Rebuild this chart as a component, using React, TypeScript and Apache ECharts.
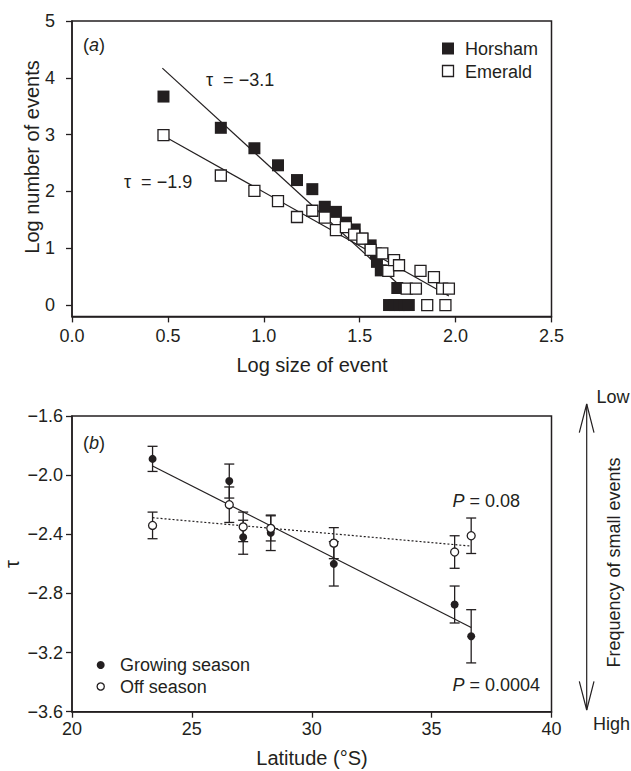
import React, { useEffect, useRef } from "react";
import * as echarts from "echarts";

const FONT = '"Liberation Sans", Arial, Helvetica, sans-serif';
const INK = "#231f20";

// Panel (a): log size of event vs log number of events
const horsham: [number, number][] = [
  [0.477, 3.67], [0.776, 3.12], [0.951, 2.76], [1.074, 2.46], [1.173, 2.2],
  [1.253, 2.04], [1.318, 1.73], [1.376, 1.64], [1.428, 1.45], [1.474, 1.33],
  [1.514, 1.17], [1.557, 1.05], [1.584, 0.91], [1.59, 0.76], [1.61, 0.61],
  [1.696, 0.3], [1.653, 0], [1.681, 0], [1.708, 0], [1.732, 0], [1.756, 0],
];
const emerald: [number, number][] = [
  [0.477, 2.99], [0.776, 2.28], [0.951, 2.01], [1.074, 1.83], [1.173, 1.55],
  [1.253, 1.66], [1.318, 1.54], [1.376, 1.32], [1.428, 1.37], [1.471, 1.24],
  [1.514, 1.17], [1.557, 0.97], [1.618, 0.91], [1.649, 0.6], [1.679, 0.79],
  [1.705, 0.7], [1.745, 0.29], [1.793, 0.29], [1.817, 0.6], [1.887, 0.49],
  [1.93, 0.29], [1.965, 0.29], [1.852, 0], [1.947, 0],
];
const horshamFit: [number, number][] = [[0.471, 4.17], [1.7, 0.37]];
const emeraldFit: [number, number][] = [[0.492, 2.95], [1.965, 0.16]];
const panelAYTicks = [0, 1, 2, 3, 4, 5];

// Panel (b): latitude vs tau, [latitude, tau, error]
const growing: [number, number, number][] = [
  [23.36, -1.89, 0.085], [26.56, -2.04, 0.115], [27.14, -2.42, 0.115],
  [28.29, -2.39, 0.12], [30.92, -2.6, 0.15], [35.96, -2.875, 0.125],
  [36.65, -3.09, 0.18],
];
const offSeason: [number, number, number][] = [
  [23.36, -2.34, 0.09], [26.56, -2.2, 0.12], [27.14, -2.35, 0.1],
  [28.29, -2.36, 0.085], [30.92, -2.46, 0.105], [35.96, -2.52, 0.11],
  [36.65, -2.41, 0.12],
];
const growingFit: [number, number][] = [[23.36, -1.938], [36.65, -3.03]];
const offFit: [number, number][] = [[23.36, -2.288], [36.65, -2.48]];

const axisCommon = {
  axisLine: { show: true, onZero: false, lineStyle: { color: INK, width: 1.5 } },
  axisTick: { show: true, inside: false, length: 6, lineStyle: { color: INK, width: 1.3 } },
  splitLine: { show: false },
};

function errorBars(data: [number, number, number][]) {
  return {
    type: "custom",
    xAxisIndex: 1,
    yAxisIndex: 1,
    silent: true,
    z: 3,
    data,
    renderItem: (params: any, api: any) => {
      const x = api.value(0);
      const y = api.value(1);
      const e = api.value(2);
      const top = api.coord([x, y + e]);
      const bot = api.coord([x, y - e]);
      const hw = 5;
      const st = { stroke: INK, lineWidth: 1.3 };
      return {
        type: "group",
        children: [
          { type: "line", shape: { x1: top[0], y1: top[1], x2: bot[0], y2: bot[1] }, style: st },
          { type: "line", shape: { x1: top[0] - hw, y1: top[1], x2: top[0] + hw, y2: top[1] }, style: st },
          { type: "line", shape: { x1: bot[0] - hw, y1: bot[1], x2: bot[0] + hw, y2: bot[1] }, style: st },
        ],
      };
    },
  };
}

function txt(text: string, x: number, y: number, extra: any = {}, rotation = 0) {
  return {
    type: "text",
    x,
    y,
    rotation,
    silent: true,
    style: {
      text,
      fill: INK,
      fontSize: 18,
      fontFamily: FONT,
      align: "left",
      verticalAlign: "middle",
      ...extra,
    },
  };
}

export default function App() {
  const ref = useRef<HTMLDivElement>(null);

  useEffect(() => {
    if (!ref.current) return;
    const chart = echarts.init(ref.current, null, { renderer: "svg" });
    const italicRich = {
      i: { fontStyle: "italic", fontSize: 18, fontFamily: FONT, fill: INK },
    };
    const option: any = {
      animation: false,
      backgroundColor: "#ffffff",
      textStyle: { fontFamily: FONT },
      grid: [
        { left: 72, top: 21, width: 479.5, height: 295.4, show: true, borderColor: INK, borderWidth: 1.5, backgroundColor: "transparent", containLabel: false, outerBoundsMode: "none" },
        { left: 72, top: 416, width: 479.5, height: 295.7, show: true, borderColor: INK, borderWidth: 1.5, backgroundColor: "transparent", containLabel: false, outerBoundsMode: "none" },
      ],
      xAxis: [
        {
          type: "value", gridIndex: 0, min: 0, max: 2.5, interval: 0.5, ...axisCommon,
          axisLabel: { color: INK, fontSize: 18, fontFamily: FONT, margin: 11, formatter: (v: number) => v.toFixed(1) },
        },
        {
          type: "value", gridIndex: 1, min: 20, max: 40, interval: 5, ...axisCommon,
          axisLabel: { color: INK, fontSize: 18, fontFamily: FONT, margin: 8, formatter: (v: number) => String(Math.round(v)) },
        },
      ],
      yAxis: [
        {
          type: "value", gridIndex: 0, min: -0.2, max: 5, ...axisCommon,
          axisTick: { ...axisCommon.axisTick, customValues: panelAYTicks },
          axisLabel: { color: INK, fontSize: 18, fontFamily: FONT, margin: 17, customValues: panelAYTicks, formatter: (v: number) => String(Math.round(v)) },
        },
        {
          type: "value", gridIndex: 1, min: -3.6, max: -1.6, interval: 0.4, ...axisCommon,
          axisLabel: {
            color: INK, fontSize: 18, fontFamily: FONT, margin: 9,
            formatter: (v: number) => (v < 0 ? "\u2212" : "") + Math.abs(v).toFixed(1),
          },
        },
      ],
      series: [
        { type: "line", xAxisIndex: 0, yAxisIndex: 0, data: horshamFit, showSymbol: false, symbol: "none", silent: true, z: 2, lineStyle: { color: INK, width: 1.2 } },
        { type: "line", xAxisIndex: 0, yAxisIndex: 0, data: emeraldFit, showSymbol: false, symbol: "none", silent: true, z: 2, lineStyle: { color: INK, width: 1.2 } },
        { type: "scatter", name: "Horsham", xAxisIndex: 0, yAxisIndex: 0, data: horsham, symbol: "rect", symbolSize: 12, silent: true, z: 3, itemStyle: { color: INK, opacity: 1 } },
        { type: "scatter", name: "Emerald", xAxisIndex: 0, yAxisIndex: 0, data: emerald, symbol: "rect", symbolSize: 11, silent: true, z: 4, itemStyle: { color: "#ffffff", borderColor: INK, borderWidth: 1.3, opacity: 1 } },
        { type: "line", xAxisIndex: 1, yAxisIndex: 1, data: growingFit, showSymbol: false, symbol: "none", silent: true, z: 2, lineStyle: { color: INK, width: 1.2 } },
        { type: "line", xAxisIndex: 1, yAxisIndex: 1, data: offFit, showSymbol: false, symbol: "none", silent: true, z: 2, lineStyle: { color: INK, width: 1.2, type: [2, 2] } },
        errorBars(growing),
        errorBars(offSeason),
        { type: "scatter", name: "Growing season", xAxisIndex: 1, yAxisIndex: 1, data: growing.map((d) => [d[0], d[1]]), symbol: "circle", symbolSize: 8, silent: true, z: 4, itemStyle: { color: INK, opacity: 1 } },
        { type: "scatter", name: "Off season", xAxisIndex: 1, yAxisIndex: 1, data: offSeason.map((d) => [d[0], d[1]]), symbol: "circle", symbolSize: 8, silent: true, z: 4, itemStyle: { color: "#ffffff", borderColor: INK, borderWidth: 1.3, opacity: 1 } },
      ],
      graphic: [
        // axis titles
        txt("Log number of events", 32, 157, { align: "center", fontSize: 20 }, Math.PI / 2),
        txt("Log size of event", 312, 365, { align: "center", fontSize: 20 }),
        txt("\u03c4", 12, 564, { align: "center", fontSize: 20 }, Math.PI / 2),
        txt("Latitude (\u00b0S)", 312, 758, { align: "center", fontSize: 20 }),
        // panel labels
        { type: "text", x: 83, y: 45, silent: true, style: { text: "({i|a})", fill: INK, fontSize: 18, fontFamily: FONT, verticalAlign: "middle", rich: italicRich } },
        { type: "text", x: 83, y: 443, silent: true, style: { text: "({i|b})", fill: INK, fontSize: 18, fontFamily: FONT, verticalAlign: "middle", rich: italicRich } },
        // panel a annotations
        txt("\u03c4  = \u22123.1", 206, 80),
        txt("\u03c4  = \u22121.9", 124, 182),
        // panel a legend
        { type: "rect", silent: true, shape: { x: 442, y: 42.5, width: 12, height: 12 }, style: { fill: INK } },
        { type: "rect", silent: true, shape: { x: 442.5, y: 65.5, width: 11, height: 11 }, style: { fill: "#fff", stroke: INK, lineWidth: 1.3 } },
        txt("Horsham", 465, 48.5),
        txt("Emerald", 465, 71.5),
        // panel b legend
        { type: "circle", silent: true, shape: { cx: 100.7, cy: 665, r: 4 }, style: { fill: INK } },
        { type: "circle", silent: true, shape: { cx: 100.7, cy: 686.5, r: 3.6 }, style: { fill: "#fff", stroke: INK, lineWidth: 1.3 } },
        txt("Growing season", 120, 665),
        txt("Off season", 120, 686.5),
        // P values
        { type: "text", x: 452.5, y: 501, silent: true, style: { text: "{i|P} = 0.08", fill: INK, fontSize: 18, fontFamily: FONT, verticalAlign: "middle", rich: italicRich } },
        { type: "text", x: 452.5, y: 685, silent: true, style: { text: "{i|P} = 0.0004", fill: INK, fontSize: 18, fontFamily: FONT, verticalAlign: "middle", rich: italicRich } },
        // frequency arrow
        { type: "line", silent: true, shape: { x1: 586.7, y1: 404, x2: 586.7, y2: 710 }, style: { stroke: INK, lineWidth: 1.2 } },
        { type: "polyline", silent: true, shape: { points: [[579.3, 432.7], [586.7, 404], [594, 432.7]] }, style: { stroke: INK, lineWidth: 1.2, fill: null } },
        { type: "polyline", silent: true, shape: { points: [[579.3, 681.3], [586.7, 710], [594, 681.3]] }, style: { stroke: INK, lineWidth: 1.2, fill: null } },
        txt("Low", 596.5, 397),
        txt("High", 593, 724),
        txt("Frequency of small events", 614, 562.5, { align: "center" }, Math.PI / 2),
      ],
    };
    chart.setOption(option);
    return () => chart.dispose();
  }, []);

  return (
    <div
      ref={ref}
      style={{ position: "fixed", left: 0, top: 0, width: 631, height: 771, background: "#fff" }}
    />
  );
}
